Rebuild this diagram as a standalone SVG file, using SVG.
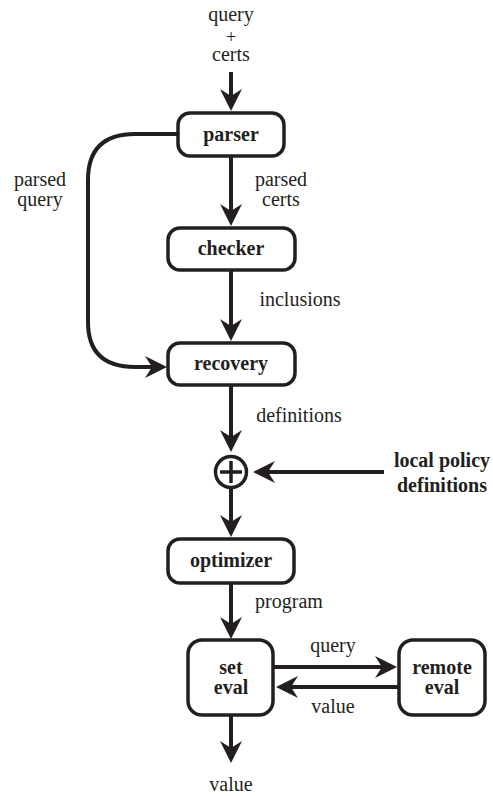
<svg xmlns="http://www.w3.org/2000/svg" width="493" height="796" viewBox="0 0 493 796" font-family="Liberation Serif, Times New Roman, serif">
<style>
.box{fill:#fff;stroke:#231f20;stroke-width:3.5}
.ln{fill:none;stroke:#231f20;stroke-width:4;marker-end:url(#ah)}
text{font-size:20px;fill:#231f20;text-anchor:middle}
.b{font-weight:bold}
.pl{font-size:18px}
</style>
<defs>
<marker id="ah" markerUnits="userSpaceOnUse" viewBox="-24 -12 26 24" refX="-10" refY="0" markerWidth="26" markerHeight="24" orient="auto">
<path d="M0,0 L-22,-11 L-15,0 L-22,11 Z" fill="#231f20"/>
</marker>
</defs>
<rect width="493" height="796" fill="#fff"/>
<g id="connectors">
<line class="ln" x1="231" y1="72" x2="231" y2="101"/>
<line class="ln" x1="231" y1="156" x2="231" y2="216"/>
<line class="ln" x1="231" y1="270" x2="231" y2="331"/>
<path class="ln" d="M177,134 H135 Q88,134 88,180 V322 Q88,367 135,367 H157"/>
<line class="ln" x1="231" y1="385" x2="231" y2="442"/>
<line class="ln" x1="384" y1="472" x2="263" y2="472"/>
<line class="ln" x1="231" y1="489" x2="231" y2="527"/>
<line class="ln" x1="231" y1="583" x2="231" y2="629"/>
<line class="ln" x1="273" y1="667" x2="387" y2="667"/>
<line class="ln" x1="399" y1="687" x2="286" y2="687"/>
<line class="ln" x1="231" y1="715" x2="231" y2="753"/>
</g>
<g id="input">
<text x="231" y="21">query</text>
<text class="pl" x="231" y="43">+</text>
<text x="231" y="61">certs</text>
</g>
<g id="parser">
<rect class="box" x="178" y="113" width="106" height="43" rx="12"/>
<text class="b" x="231" y="141">parser</text>
</g>
<g id="checker">
<rect class="box" x="168" y="228" width="127" height="42" rx="12"/>
<text class="b" x="231" y="255">checker</text>
</g>
<g id="recovery">
<rect class="box" x="168" y="343" width="127" height="42" rx="12"/>
<text class="b" x="231" y="370">recovery</text>
</g>
<g id="combine">
<circle cx="231" cy="472" r="15.5" fill="#fff" stroke="#231f20" stroke-width="3.5"/>
<path d="M220,472 H242 M231,461 V483" stroke="#231f20" stroke-width="3.5"/>
</g>
<g id="optimizer">
<rect class="box" x="168" y="539" width="126" height="44" rx="12"/>
<text class="b" x="231" y="567">optimizer</text>
</g>
<g id="set-eval">
<rect class="box" x="188" y="640" width="85" height="75" rx="14"/>
<text class="b" x="231" y="674">set</text>
<text class="b" x="231" y="694">eval</text>
</g>
<g id="remote-eval">
<rect class="box" x="399" y="640" width="86" height="75" rx="14"/>
<text class="b" x="442" y="674">remote</text>
<text class="b" x="442" y="694">eval</text>
</g>
<g id="local-policy">
<text class="b" x="442" y="467">local policy</text>
<text class="b" x="442" y="492">definitions</text>
</g>
<g id="labels">
<text x="40" y="186">parsed</text>
<text x="40" y="206">query</text>
<text x="281" y="186">parsed</text>
<text x="281" y="206">certs</text>
<text x="300" y="306">inclusions</text>
<text x="299" y="422">definitions</text>
<text x="289" y="608">program</text>
<text x="333" y="652">query</text>
<text x="333" y="713">value</text>
<text x="231" y="791">value</text>
</g>
</svg>
